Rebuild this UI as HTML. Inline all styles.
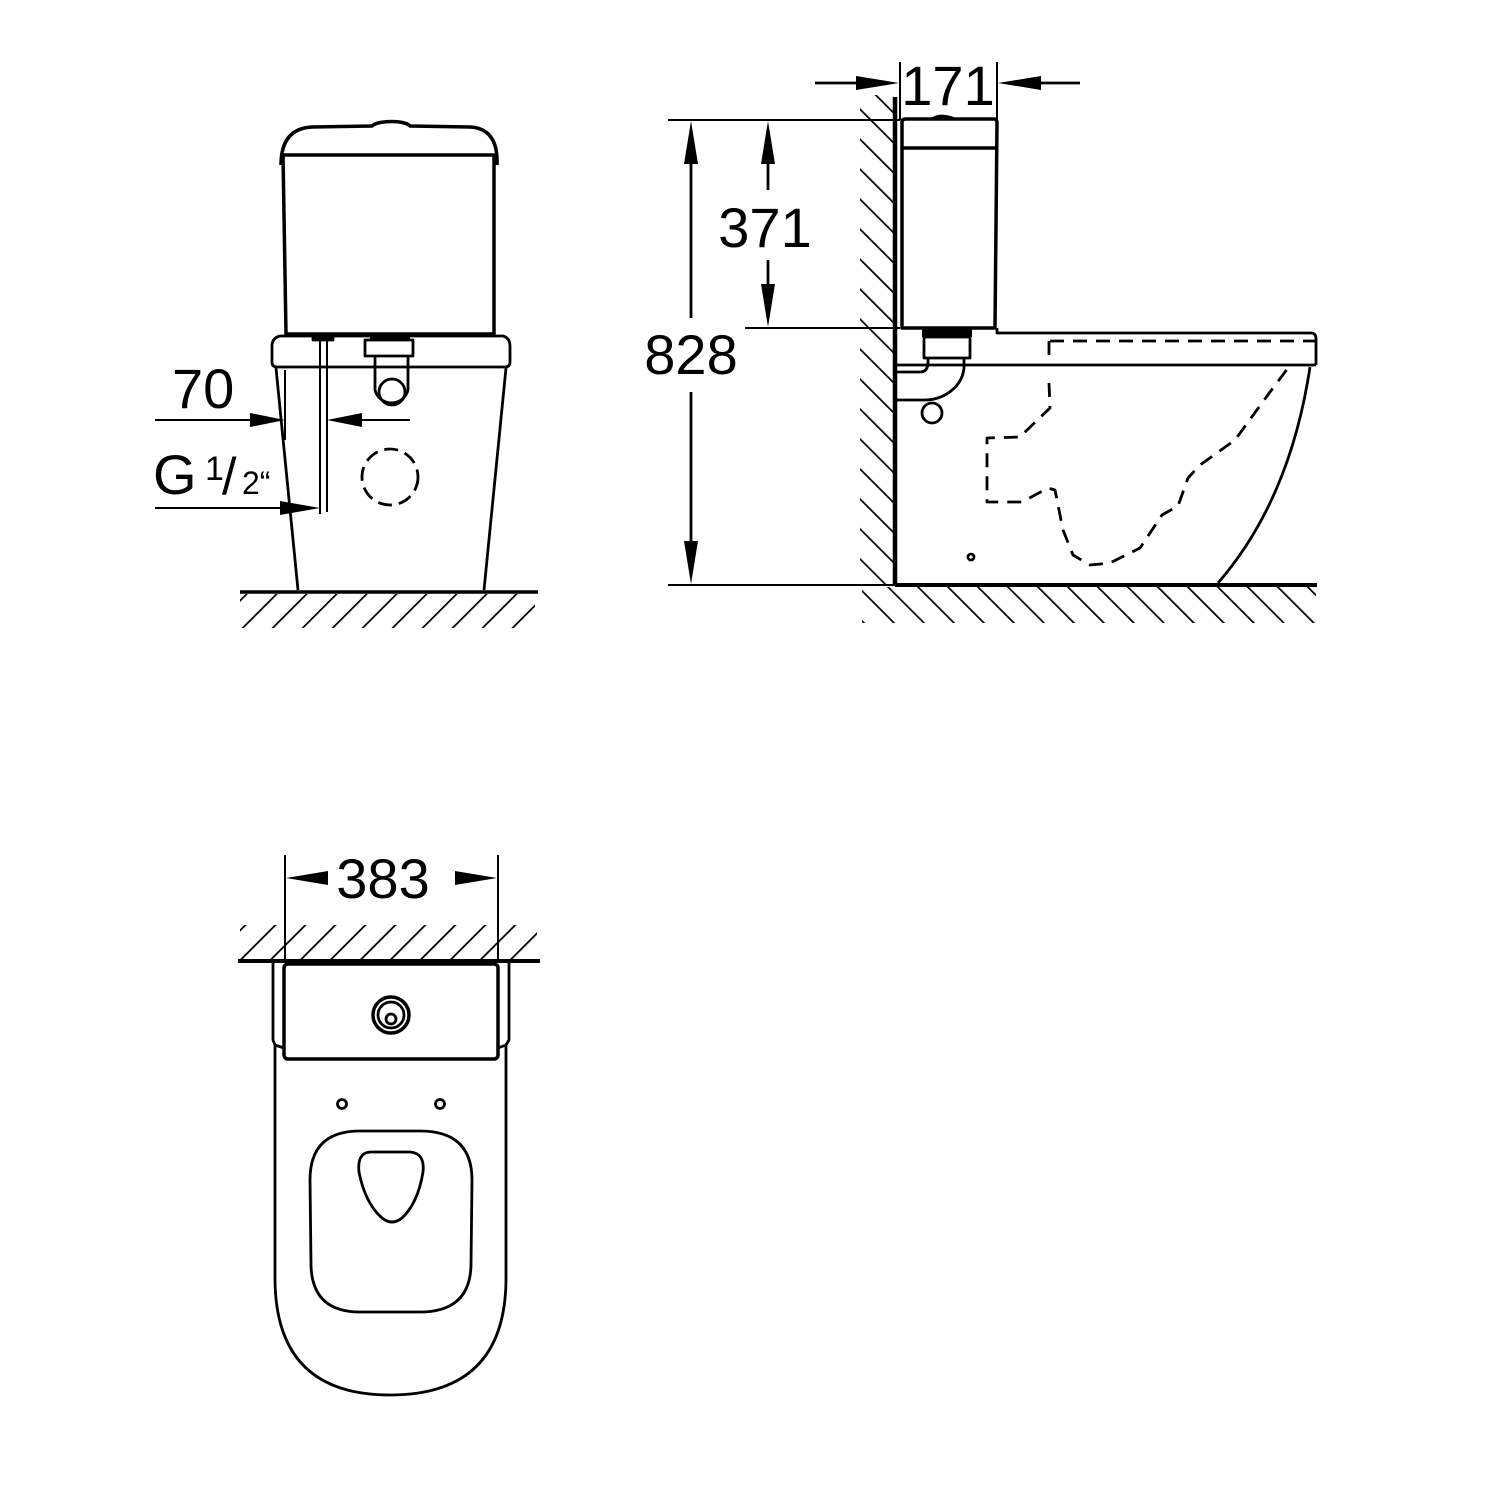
<!DOCTYPE html>
<html><head><meta charset="utf-8"><style>
html,body{margin:0;padding:0;background:#fff}
svg{display:block}
text{font-family:"Liberation Sans",Arial,sans-serif;fill:#000}
</style></head><body>
<svg width="1500" height="1500" viewBox="0 0 1500 1500" xmlns="http://www.w3.org/2000/svg">
<defs>
<pattern id="hs" width="21.2" height="21.2" patternUnits="userSpaceOnUse" patternTransform="rotate(45)">
<line x1="0" y1="0" x2="0" y2="21.2" stroke="#000" stroke-width="3.5"/></pattern>
<pattern id="hb" width="21.2" height="21.2" patternUnits="userSpaceOnUse" patternTransform="rotate(-45)">
<line x1="0" y1="0" x2="0" y2="21.2" stroke="#000" stroke-width="3.5"/></pattern>
</defs>
<g fill="none" stroke="#000" stroke-width="2.8" stroke-linejoin="round">

<!-- FRONT VIEW -->
<rect x="240" y="594" width="295" height="34" fill="url(#hs)" stroke="none"/>
<line x1="240" y1="592" x2="538" y2="592" stroke-width="3.5"/>
<path d="M281,155 L497,155" stroke-width="3.5"/>
<path d="M281,165 C281,140 292,128 312,127 L372,126 C378,120 405,120 410,126 L470,127 C490,128 498,142 497,165" stroke-width="3.5"/>
<path d="M283,155 L286,334 L494,334 L494,155" stroke-width="3.5"/>
<path d="M280,336 L503,336 Q510,338 510,346 L510,362 Q510,367 505,367 L277,367 Q272,367 272,362 L272,346 Q272,338 280,336 Z"/>
<path d="M276,368 L298,590 M506,368 L484,590"/>
<line x1="285" y1="370" x2="285" y2="440" stroke-width="2"/>
<line x1="320" y1="340" x2="320" y2="514" stroke-width="2"/>
<line x1="327" y1="340" x2="327" y2="512" stroke-width="2"/>
<rect x="313" y="336" width="20" height="4" fill="#000"/>
<rect x="370" y="334" width="40" height="5" fill="#000" stroke="none"/>
<rect x="365" y="340" width="48" height="16"/>
<path d="M375,356 L375,390 A17,17 0 0 0 408,390 L408,356"/>
<circle cx="392" cy="392" r="13"/>
<circle cx="390" cy="477" r="28" stroke-dasharray="14,7"/>
<line x1="155" y1="420" x2="260" y2="420" stroke-width="2"/>
<line x1="350" y1="420" x2="410" y2="420" stroke-width="2"/>
<line x1="155" y1="508" x2="290" y2="508" stroke-width="2"/>

<!-- SIDE VIEW -->
<rect x="860" y="95" width="35" height="490" fill="url(#hb)" stroke="none"/>
<rect x="862" y="587" width="454" height="36" fill="url(#hb)" stroke="none"/>
<line x1="895" y1="97" x2="895" y2="586" stroke-width="4.5"/>
<line x1="895" y1="585" x2="1317" y2="585" stroke-width="4"/>
<path d="M902,328 L902,122 Q902,119 906,119 L994,119 Q997,119 997,123 L995,328 Z" stroke-width="3.5"/>
<line x1="902" y1="148" x2="997" y2="148" stroke-width="3.5"/>
<path d="M932,119 Q940,113 955,119" fill="#000"/>
<path d="M997,328 L997,333 L1311,333 Q1316,333 1316,339 L1316,365 M897,365 L1316,365"/>
<path d="M1310,367 Q1290,500 1218,583"/>
<line x1="1050" y1="341" x2="1316" y2="341" stroke-dasharray="14,9"/>
<path d="M1049,341 L1049,365 M1049,383 L1050,408 L1024,433 L1020,437 L987,438 L987,502 L1022,502 L1048,488 L1055,490 L1063,530 L1073,555 L1090,565 L1110,563 L1140,548 L1162,515 L1178,506 L1188,478 L1200,465 L1235,440 L1270,392 L1288,368" stroke-dasharray="14,9"/>
<rect x="922" y="329" width="50" height="8" fill="#000" stroke="none"/>
<rect x="924" y="337" width="46" height="21"/>
<path d="M897,372 L920,372 Q928,372 928,362 L928,358 M964,358 L964,368 A40,35 0 0 1 926,400 L897,400"/>
<circle cx="932" cy="413" r="10"/>
<circle cx="971" cy="557" r="3"/>
<line x1="668" y1="120" x2="900" y2="120" stroke-width="2"/>
<line x1="745" y1="328" x2="900" y2="328" stroke-width="2"/>
<line x1="668" y1="585" x2="895" y2="585" stroke-width="2"/>
<line x1="691" y1="160" x2="691" y2="318"/>
<line x1="691" y1="392" x2="691" y2="545"/>
<line x1="768" y1="160" x2="768" y2="190"/>
<line x1="768" y1="260" x2="768" y2="290"/>
<line x1="900" y1="62" x2="900" y2="120" stroke-width="2"/>
<line x1="997" y1="62" x2="997" y2="122" stroke-width="2"/>
<line x1="815" y1="83" x2="860" y2="83"/>
<line x1="1040" y1="83" x2="1080" y2="83"/>

<!-- TOP VIEW -->
<rect x="240" y="925" width="297" height="35" fill="url(#hs)" stroke="none"/>
<line x1="238" y1="961" x2="540" y2="961" stroke-width="4"/>
<line x1="285" y1="855" x2="285" y2="962" stroke-width="2"/>
<line x1="498" y1="855" x2="498" y2="962" stroke-width="2"/>
<line x1="318" y1="878" x2="328" y2="878"/>
<line x1="455" y1="878" x2="465" y2="878"/>
<rect x="284" y="964" width="214" height="95" rx="4" stroke-width="3.5"/>
<path d="M273,963 L273,1040 L275,1045 L275,1280 Q276,1395 390,1395 Q505,1395 506,1280 L506,1045 L509,1040 L509,963"/>
<path d="M275,1045 L284,1048 M506,1045 L498,1048"/>
<path d="M360,1131 L420,1131 Q472,1131 472,1180 L471,1265 Q470,1312 420,1312 L360,1312 Q312,1312 311,1265 L310,1180 Q310,1131 360,1131 Z"/>
<path d="M370,1152 L410,1152 Q425,1153 423,1172 Q418,1203 402,1218 Q392,1226 382,1218 Q365,1203 359,1172 Q357,1153 370,1152 Z"/>
<circle cx="342" cy="1104" r="4.5"/>
<circle cx="440" cy="1104" r="4.5"/>
<circle cx="391" cy="1015" r="18" stroke-width="3.5"/>
<circle cx="391" cy="1015" r="13"/>
<circle cx="391" cy="1019" r="5"/>
</g>

<!-- arrowheads -->
<g fill="#000">
<polygon points="285,420 250,413 250,427"/>
<polygon points="327,420 362,413 362,427"/>
<polygon points="320,508 280,501 280,515"/>
<polygon points="691,121 684,164 698,164"/>
<polygon points="691,584 684,541 698,541"/>
<polygon points="768,121 761,164 775,164"/>
<polygon points="768,327 761,284 775,284"/>
<polygon points="899,83 856,76 856,90"/>
<polygon points="998,83 1041,76 1041,90"/>
<polygon points="286,878 328,871 328,885"/>
<polygon points="497,878 455,871 455,885"/>
</g>

<!-- labels -->
<text x="172" y="408" font-size="56">70</text>
<text x="153" y="494" font-size="56">G</text>
<text x="205" y="480" font-size="34">1</text>
<text x="222" y="494" font-size="52">/</text>
<text x="242" y="494" font-size="32">2“</text>
<text x="948" y="105" font-size="56" text-anchor="middle">171</text>
<text x="765" y="247" font-size="56" text-anchor="middle">371</text>
<text x="691" y="374" font-size="56" text-anchor="middle">828</text>
<text x="383" y="898" font-size="56" text-anchor="middle">383</text>
</svg>
</body></html>
